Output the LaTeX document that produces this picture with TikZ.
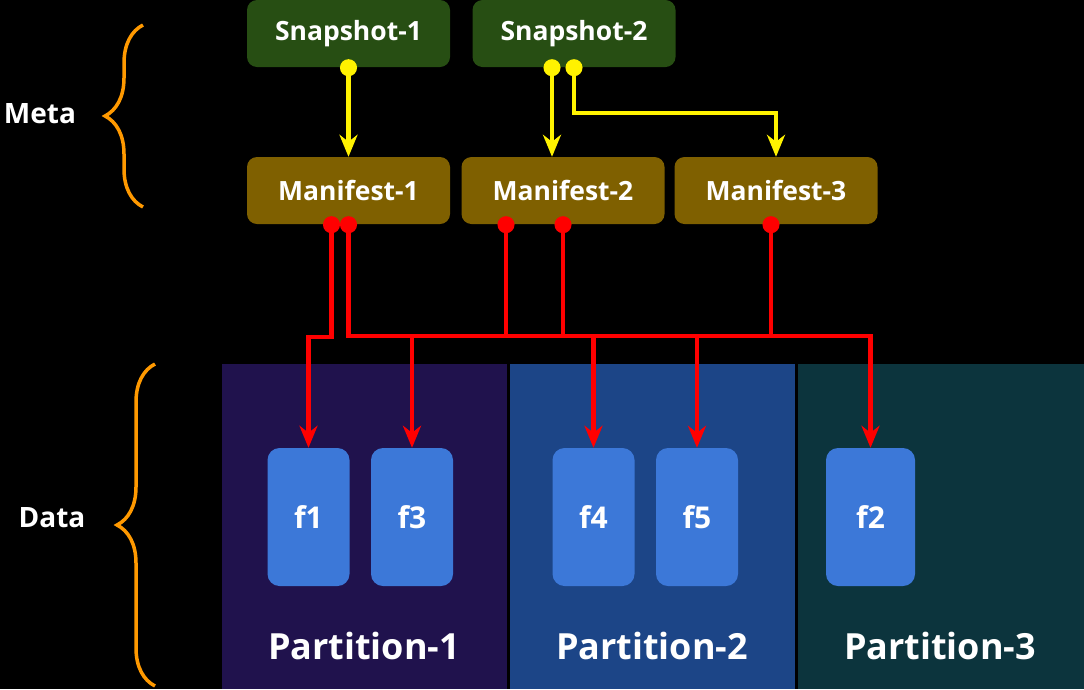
\documentclass[tikz,border=0pt]{standalone}
\usepackage{fontspec}
\setmainfont{Open Sans}
\usetikzlibrary{arrows.meta,decorations.pathreplacing}
\definecolor{snapgreen}{HTML}{274E13}
\definecolor{mangold}{HTML}{7F6000}
\definecolor{fileblue}{HTML}{3C78D8}
\definecolor{partone}{HTML}{20124D}
\definecolor{parttwo}{HTML}{1C4587}
\definecolor{partthree}{HTML}{0C343D}
\definecolor{braceorange}{HTML}{FF9900}
\tikzset{
  snapbox/.style={fill=snapgreen,rounded corners=10pt,minimum width=203pt,minimum height=67pt,
    inner sep=0pt,text=white,font=\fontsize{26.5}{30}\selectfont\bfseries},
  manbox/.style={snapbox,fill=mangold},
  filebox/.style={fill=fileblue,rounded corners=12pt,minimum width=82pt,minimum height=138pt,
    inner sep=0pt,text=white,font=\fontsize{30}{36}\selectfont\bfseries},
  partlabel/.style={text=white,font=\fontsize{36}{42}\selectfont\bfseries},
  sidelabel/.style={text=white,font=\fontsize{28}{32}\selectfont\bfseries},
  sidebrace/.style={draw=braceorange,line width=3.5pt,decorate,decoration={brace,amplitude=38pt}},
  ylink/.style={draw=yellow,line width=4.5pt,shorten <=-8pt,
    {Circle[length=17pt]}-{Stealth[length=22pt,width=18pt,inset=7pt]}},
  rlink/.style={draw=red,line width=4.5pt,shorten <=-8pt,
    {Circle[length=17pt]}-{Stealth[length=22pt,width=18pt,inset=7pt]}},
  rdot/.style={draw=red,line width=4.5pt,shorten <=-8pt,{Circle[length=17pt]}-},
  rarrow/.style={draw=red,line width=4.5pt,-{Stealth[length=22pt,width=18pt,inset=7pt]}}
}
\begin{document}
\begin{tikzpicture}[x=1pt,y=-1pt]
\fill[black] (0,0) rectangle (1084,689);
\useasboundingbox (0,0) rectangle (1084,689);

% partitions
\fill[partone] (222,364) rectangle (507,689);
\fill[parttwo] (510,364) rectangle (795,689);
\fill[partthree] (798,364) rectangle (1084,689);
\node[partlabel] (p1) at (364,646) {Partition-1};
\node[partlabel] (p2) at (652,646) {Partition-2};
\node[partlabel] (p3) at (940,646) {Partition-3};

% meta layer
\node[snapbox] (s1) at (348.5,33.5) {Snapshot-1};
\node[snapbox] (s2) at (574,33.5) {Snapshot-2};
\node[manbox] (m1) at (348.5,190.5) {Manifest-1};
\node[manbox] (m2) at (563,190.5) {Manifest-2};
\node[manbox] (m3) at (776,190.5) {Manifest-3};

% data files
\node[filebox] (f1) at (308.5,517) {f1};
\node[filebox] (f3) at (412,517) {f3};
\node[filebox] (f4) at (593.5,517) {f4};
\node[filebox] (f5) at (697,517) {f5};
\node[filebox,minimum width=89pt] (f2) at (870.5,517) {f2};

% side labels
\node[sidelabel] (meta) at (40,114) {Meta};
\node[sidelabel] (data) at (52,518) {Data};
\coordinate (mtop) at (143,25);
\coordinate (mbot) at (143,207);
\coordinate (dtop) at (155,364);
\coordinate (dbot) at (155,686);
\draw[sidebrace] (mbot) -- (mtop);
\draw[sidebrace] (dbot) -- (dtop);

% snapshot -> manifest
\coordinate (ybend) at (0,113);
\coordinate (s2a) at ([xshift=-22pt]s2.south);
\draw[ylink] (s1.south) -- (m1.north);
\draw[ylink] (s2a) -- (s2a |- m2.north);
\draw[ylink] (s2.south) |- (m3.north |- ybend) -- (m3.north);

% manifest -> files
\coordinate (bus) at (0,336);
\coordinate (m1a) at ([xshift=-17pt]m1.south);
\coordinate (m2a) at ([xshift=-57pt]m2.south);
\coordinate (m3a) at ([xshift=-5pt]m3.south);
\draw[rlink] (m1a) |- ([yshift=-1pt]f1.north |- bus) -- (f1.north);
\draw[rlink] (m1.south) |- (f2.north |- bus) -- (f2.north);
\draw[rdot] (m2a) -- (m2a |- bus);
\draw[rdot] (m2.south) -- (m2.south |- bus);
\draw[rdot] (m3a) -- (m3a |- bus);
\draw[rarrow] (f3.north |- bus) -- (f3.north);
\draw[rarrow] (f4.north |- bus) -- (f4.north);
\draw[rarrow] (f5.north |- bus) -- (f5.north);
\end{tikzpicture}
\end{document}
